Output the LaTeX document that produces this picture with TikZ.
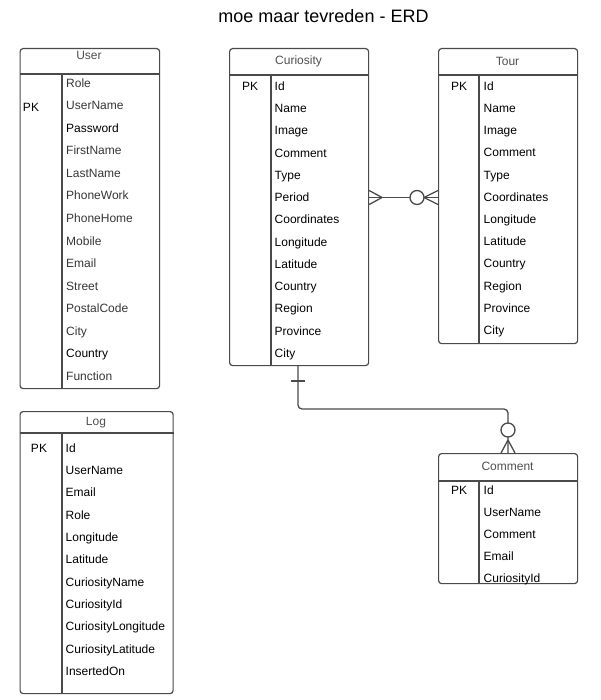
\documentclass[tikz,border=0pt]{standalone}
\usepackage{fontspec}
\setmainfont{Liberation Sans}
\begin{document}
\begin{tikzpicture}[x=1pt,y=-1pt,
  tbl/.style={draw=boxc, line width=1.2pt, rounded corners=3pt, inner sep=0pt, anchor=north west},
  sep/.style={draw=boxc, line width=1.1pt},
  hdr/.style={font=\fontsize{12}{14}\selectfont, text=hdrc, inner sep=0pt},
  fld/.style={font=\fontsize{12}{14}\selectfont, text=black, inner sep=0pt, anchor=base west},
  fldg/.style={fld, text=grayc},
  pk/.style={font=\fontsize{12}{14}\selectfont, text=black, inner sep=0pt, anchor=base},
  rel/.style={draw=boxc, line width=1.3pt},
  ring/.style={circle, draw=boxc, line width=1.3pt, fill=white, minimum size=14pt, inner sep=0pt}]
\definecolor{boxc}{HTML}{4A4A4A}
\definecolor{hdrc}{HTML}{505050}
\definecolor{grayc}{HTML}{363636}
\useasboundingbox (0,0) rectangle (600,700);
\fill[white] (0,0) rectangle (600,700);

\node[font=\fontsize{18}{21}\selectfont, inner sep=0pt, anchor=base] (title) at (323.5,22.5) {moe maar tevreden - ERD};

% ---------- User ----------
\node[tbl, minimum width=139.5pt, minimum height=340pt] (user) at (19.5,48) {};
\node[hdr] (userh) at (89,55) {User};
\coordinate (uh) at (0,74);
\coordinate (ud) at (62,0);
\draw[sep] (user.west |- uh) -- (user.east |- uh);
\draw[sep] (ud |- uh) -- (ud |- user.south);
\node[pk] (userpk) at (31,111.3) {PK};
\foreach \t/\s [count=\i from 0] in {Role/fldg,UserName/fldg,Password/fld,FirstName/fldg,LastName/fldg,PhoneWork/fldg,PhoneHome/fldg,Mobile/fldg,Email/fldg,Street/fldg,PostalCode/fldg,City/fldg,Country/fld,Function/fldg}
  \node[\s] (u\i) at (66, 87.3+22.54*\i) {\t};

% ---------- Curiosity ----------
\node[tbl, minimum width=139pt, minimum height=317pt] (cur) at (229,48) {};
\node[hdr] (curh) at (298.5,61.5) {Curiosity};
\coordinate (ch) at (0,75);
\coordinate (cd) at (271,0);
\draw[sep] (cur.west |- ch) -- (cur.east |- ch);
\draw[sep] (cd |- ch) -- (cd |- cur.south);
\node[pk] (curpk) at (250,90.3) {PK};
\foreach \t [count=\i from 0] in {Id,Name,Image,Comment,Type,Period,Coordinates,Longitude,Latitude,Country,Region,Province,City}
  \node[fld] (c\i) at (274.5, 90.3+22.25*\i) {\t};

% ---------- Tour ----------
\node[tbl, minimum width=139pt, minimum height=295pt] (tour) at (438,48) {};
\node[hdr] (tourh) at (507.5,61.5) {Tour};
\coordinate (th) at (0,75);
\coordinate (td) at (479,0);
\draw[sep] (tour.west |- th) -- (tour.east |- th);
\draw[sep] (td |- th) -- (td |- tour.south);
\node[pk] (tourpk) at (459,90.3) {PK};
\foreach \t [count=\i from 0] in {Id,Name,Image,Comment,Type,Coordinates,Longitude,Latitude,Country,Region,Province,City}
  \node[fld] (t\i) at (483.5, 90.3+22.2*\i) {\t};

% ---------- Log ----------
\node[tbl, minimum width=153pt, minimum height=282pt] (log) at (19.5,411) {};
\node[hdr] (logh) at (96,423) {Log};
\coordinate (lh) at (0,433);
\coordinate (ld) at (62,0);
\draw[sep] (log.west |- lh) -- (log.east |- lh);
\draw[sep] (ld |- lh) -- (ld |- log.south);
\node[pk] (logpk) at (39,452.3) {PK};
\foreach \t [count=\i from 0] in {Id,UserName,Email,Role,Longitude,Latitude,CuriosityName,CuriosityId,CuriosityLongitude,CuriosityLatitude,InsertedOn}
  \node[fld] (l\i) at (65.5, 452.3+22.3*\i) {\t};

% ---------- Comment ----------
\node[tbl, minimum width=139pt, minimum height=130pt] (com) at (438,453) {};
\node[hdr] (comh) at (507.5,466) {Comment};
\coordinate (mh) at (0,481);
\coordinate (md) at (479,0);
\draw[sep] (com.west |- mh) -- (com.east |- mh);
\draw[sep] (md |- mh) -- (md |- com.south);
\node[pk] (compk) at (459,494.3) {PK};
\foreach \t [count=\i from 0] in {Id,UserName,Comment,Email,CuriosityId}
  \node[fld] (m\i) at (483.5, 494.3+22*\i) {\t};

% ---------- Curiosity >--O< Tour ----------
\coordinate (ry) at (0,197.5);
\draw[rel] (cur.east |- ry) -- (tour.west |- ry);
\coordinate (cf1) at (382,197.5);
\draw[rel] (cf1) -- ([yshift=-7pt]cur.east |- ry);
\draw[rel] (cf1) -- ([yshift=7pt]cur.east |- ry);
\coordinate (cf2) at (424,197.5);
\draw[rel] (cf2) -- ([yshift=-7pt]tour.west |- ry);
\draw[rel] (cf2) -- ([yshift=7pt]tour.west |- ry);
\node[ring] (ring1) at (417,197.5) {};

% ---------- Curiosity +--O< Comment ----------
\coordinate (kx) at (298,0);
\coordinate (kx2) at (508,0);
\coordinate (ky) at (0,409);
\draw[rel, rounded corners=4pt] (cur.south -| kx) -- (kx |- ky) -- (kx2 |- ky) -- (com.north -| kx2);
\coordinate (bar) at (298,381);
\draw[rel] ([xshift=-7pt]bar) -- ([xshift=7pt]bar);
\coordinate (cf3) at (508,440);
\draw[rel] (cf3) -- ([xshift=-7pt]com.north -| kx2);
\draw[rel] (cf3) -- ([xshift=7pt]com.north -| kx2);
\node[ring] (ring2) at (508,430) {};
\end{tikzpicture}
\end{document}
